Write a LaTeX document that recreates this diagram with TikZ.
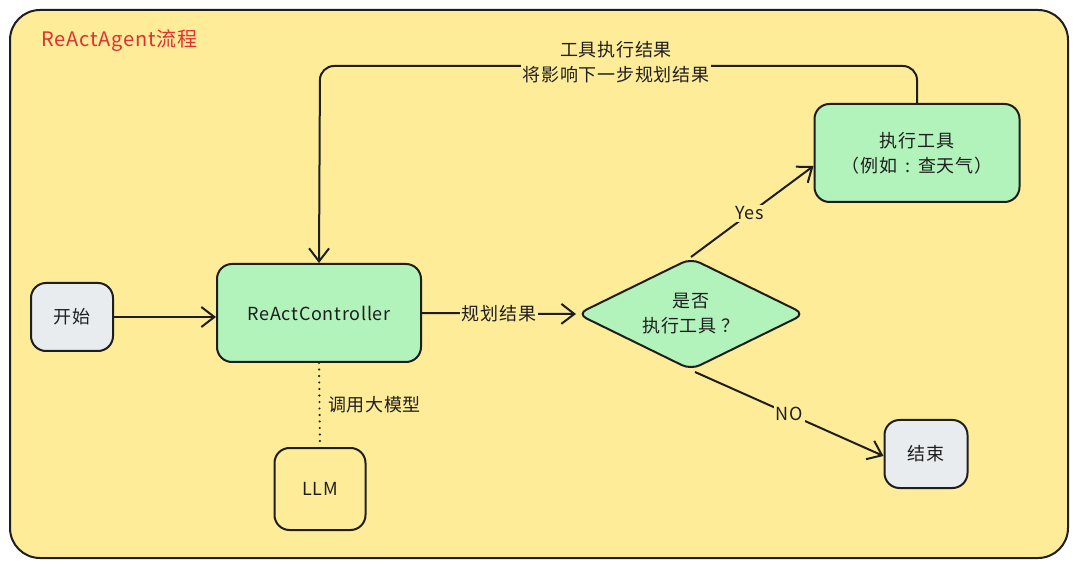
\documentclass[tikz,border=0pt]{standalone}
\usepackage{fontspec}
\setmainfont{Noto Sans CJK SC}[LetterSpace=4]
\usetikzlibrary{shapes.geometric,arrows.meta,calc}
\definecolor{bgyellow}{HTML}{FFEC99}
\definecolor{boxgreen}{HTML}{B2F2BB}
\definecolor{boxgrey}{HTML}{E9ECEF}
\definecolor{titlered}{HTML}{E03131}
\definecolor{ink}{HTML}{1E1E1E}
\begin{document}
\begin{tikzpicture}[x=1pt,y=-1pt,
  every node/.style={font=\fontsize{18}{25}\selectfont, text=ink},
  box/.style={draw=ink, line width=2pt, rounded corners=15pt, inner sep=0pt, align=center},
  conn/.style={draw=ink, line width=2pt, -{Straight Barb[length=13pt,width=20pt,line width=2pt]}},
  lbl/.style={fill=bgyellow, inner sep=2pt, align=center},
  decision/.style={diamond, draw=ink, line width=2pt, fill=boxgreen, rounded corners=10pt, inner sep=0pt, minimum width=228pt, minimum height=112pt, shape aspect=2.04, align=center}
]
\useasboundingbox (0,0) rectangle (1077,569);
\draw[ink, line width=2pt, fill=bgyellow, rounded corners=30pt] (10,10) rectangle (1068,558);
\node[text=titlered, anchor=west, font=\fontsize{20}{25}\selectfont] (title) at (38,41) {ReActAgent流程};

\node[box, fill=boxgrey, minimum width=82pt, minimum height=68pt] (start) at (72,317) {开始};
\node[box, fill=boxgreen, minimum width=204pt, minimum height=98pt] (ctrl) at (319,313) {ReActController};
\node[box, minimum width=91pt, minimum height=82pt] (llm) at (320,489) {LLM};
\node[decision] (dec) at (691,314) {是否\\执行工具 ？};
\node[box, fill=boxgreen, minimum width=205pt, minimum height=98pt] (exec) at (917,153) {执行工具\\（例如\hspace{0.45em}:\hspace{0.45em}查天气）};
\node[box, fill=boxgrey, minimum width=83pt, minimum height=68pt] (finish) at (926,454) {结束};

\coordinate (fbtop) at (917,66);
\coordinate (fbleft) at (320,66);
\draw[conn, rounded corners=14pt] (exec.north) -- (fbtop) -- (fbleft) -- (ctrl.north);
\node[lbl] (fblabel) at (616,62) {工具执行结果\\将影响下一步规划结果};

\draw[conn] (start.east) -- (ctrl.west |- start.east);
\draw[conn] (ctrl.east) -- node[lbl] (plan) {规划结果} (dec.west);
\draw[conn] (dec.north) -- node[lbl, pos=0.48] (yes) {Yes} ($(exec.west)+(0,13)$);
\draw[conn] ($(dec.south)+(4,1)$) -- node[lbl, pos=0.5] (no) {NO} ($(finish.west)+(0,2)$);
\draw[ink, line width=2.4pt, line cap=round, dash pattern=on 0pt off 6.5pt] (ctrl.south) -- node[right=4pt, fill=none] (call) {调用大模型} (llm.north);
\end{tikzpicture}
\end{document}
